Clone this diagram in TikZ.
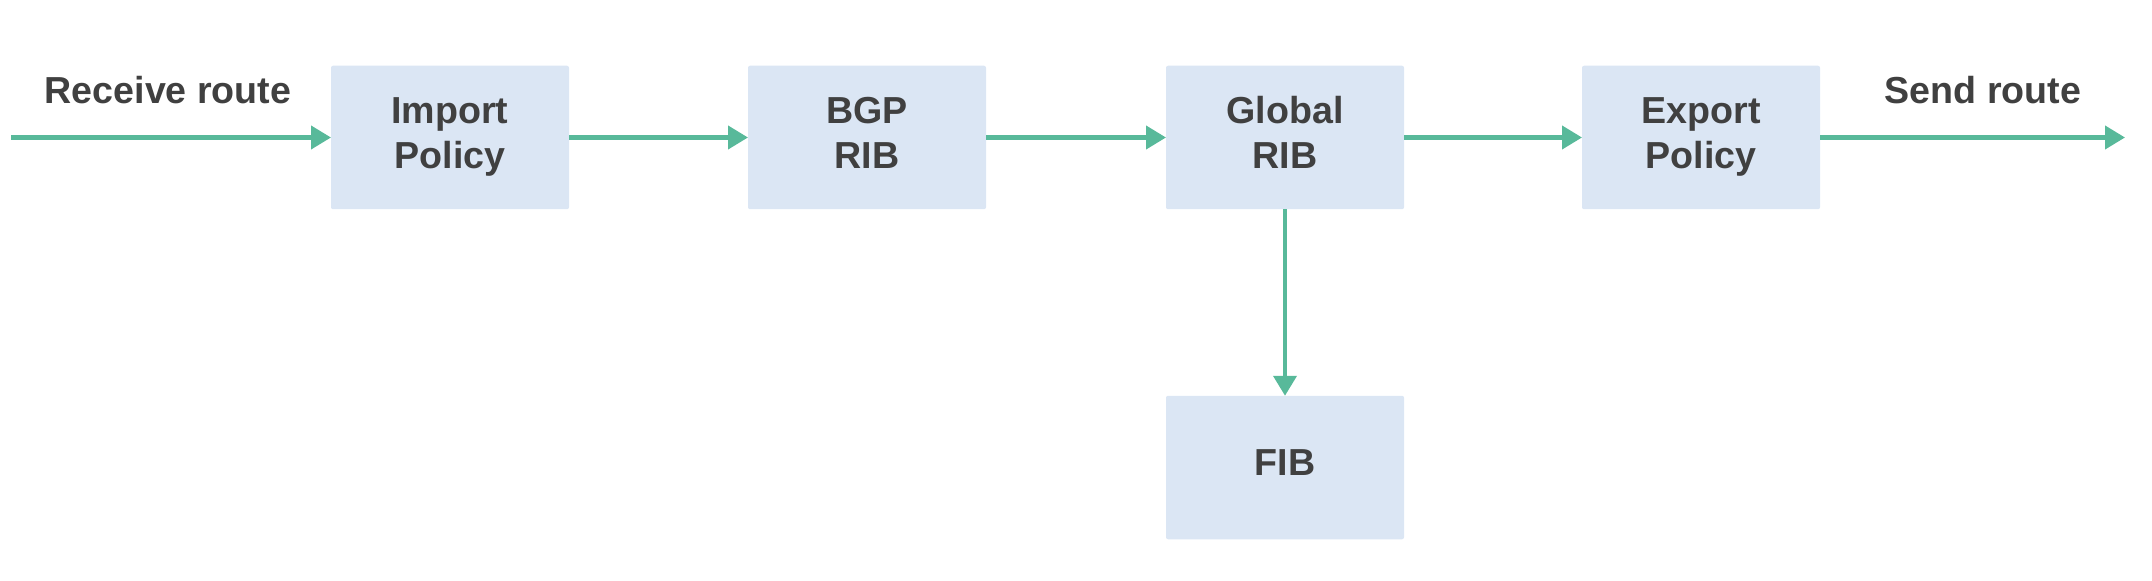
\documentclass[tikz,border=0pt]{standalone}
\usepackage{fontspec}
\setmainfont{Liberation Sans}
\usetikzlibrary{arrows.meta}
\definecolor{boxfill}{RGB}{219,230,244}
\definecolor{flowgreen}{RGB}{88,185,154}
\definecolor{txtgray}{RGB}{64,64,64}

\begin{document}
\begin{tikzpicture}[
    stage/.style={fill=boxfill, rounded corners=.04cm, minimum width=4.76cm, minimum height=2.87cm,
                  outer sep=0pt, inner sep=0pt, align=center, text=txtgray, text depth=.19cm,
                  font=\fontsize{21.4}{25.6}\selectfont\bfseries},
    flow/.style={flowgreen, line width=2.3pt, -{Triangle[length=.4cm, width=.46cm]}},
    lbl/.style={anchor=base, text=txtgray, font=\fontsize{21.4}{25.6}\selectfont\bfseries}
  ]
  \useasboundingbox (0, 0) rectangle (43.04, 11.6);
  \node[stage] (import) at (9.0, 8.85) {Import\\Policy};
  \node[stage] (bgp) at (17.34, 8.85) {BGP\\RIB};
  \node[stage] (global) at (25.7, 8.85) {Global\\RIB};
  \node[stage] (export) at (34.02, 8.85) {Export\\Policy};
  \node[stage] (fib) at (25.7, 2.25) {FIB};
  \coordinate (in) at (0.22, 8.85);
  \coordinate (out) at (42.5, 8.85);
  \node[lbl] (recv) at (3.36, 9.53) {Receive route};
  \node[lbl] (send) at (39.66, 9.53) {Send route};
  \draw[flow] (in) -- (import);
  \draw[flow] (import) -- (bgp);
  \draw[flow] (bgp) -- (global);
  \draw[flow] (global) -- (export);
  \draw[flow] (export) -- (out);
  \draw[flow] (global) -- (fib);
\end{tikzpicture}
\end{document}
